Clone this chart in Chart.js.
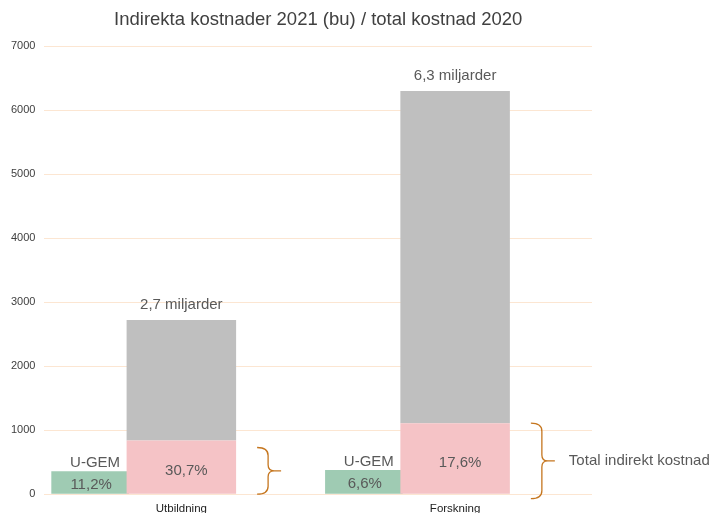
<!DOCTYPE html>
<html>
<head>
<meta charset="utf-8">
<script src="https://cdn.jsdelivr.net/npm/chart.js@4/dist/chart.umd.min.js"></script>
<style>
  html, body { margin: 0; padding: 0; overflow: hidden; background: #fff; }
</style>
</head>
<body>
<canvas id="chart" width="717" height="516"></canvas>
<script>
// värden (miljoner kr)
const categories = ['Utbildning', 'Forskning'];
const indirekt = [840, 1110];      // rosa del, total indirekt kostnad
const ovrigt = [1880, 5190];       // grå del ovanpå (resten av totalen)
const ugem = [360, 380];           // gröna staplar
const totalLabels = ['2,7 miljarder', '6,3 miljarder'];
const indirektLabels = ['30,7%', '17,6%'];
const ugemLabels = ['11,2%', '6,6%'];
const braceFrom = [0, -70];
const braceTo = [730, 1110];

const textColor = '#595959';
const braceColor = '#C5761F';
const font = 'Arial, "Liberation Sans", sans-serif';

// tre platser per kategori: grön stapel, huvudstapel, tom
const slotLabels = categories.flatMap(c => ['', c, '']);
const ugemSlots = ugem.flatMap(v => [v, null, null]);
const indirektSlots = indirekt.flatMap(v => [null, v, null]);
const ovrigtSlots = ovrigt.flatMap(v => [null, v, null]);

const labelPlugin = {
  id: 'labels',
  afterDatasetsDraw(chart) {
    const ctx = chart.ctx;
    const y = chart.scales.y;
    const pink = chart.getDatasetMeta(0).data;
    const grey = chart.getDatasetMeta(1).data;
    const green = chart.getDatasetMeta(2).data;
    ctx.save();
    ctx.fillStyle = textColor;
    ctx.textAlign = 'center';
    ctx.font = '15px ' + font;

    categories.forEach((c, i) => {
      const k = i * 3;
      const g = grey[k + 1];
      ctx.textBaseline = 'bottom';
      ctx.fillText(totalLabels[i], g.x, g.y - 8);

      const p = pink[k + 1];
      ctx.textBaseline = 'middle';
      ctx.fillText(indirektLabels[i], p.x + 5, (p.y + p.base) / 2 + 4);

      const gr = green[k];
      ctx.textBaseline = 'bottom';
      ctx.fillText('U-GEM', gr.x + 5, gr.y - 1);
      ctx.textBaseline = 'middle';
      ctx.fillText(ugemLabels[i], gr.x + 1, (gr.y + gr.base) / 2 + 2);

      // klammer
      const x0 = g.x + g.width / 2 + 21;
      const top = y.getPixelForValue(braceTo[i]);
      const bot = y.getPixelForValue(braceFrom[i]);
      const mid = (top + bot) / 2;
      const xv = x0 + 11;
      ctx.strokeStyle = braceColor;
      ctx.lineWidth = 1.3;
      ctx.beginPath();
      ctx.moveTo(x0, top);
      ctx.quadraticCurveTo(xv, top, xv, top + 8);
      ctx.lineTo(xv, mid - 6);
      ctx.quadraticCurveTo(xv, mid, xv + 6, mid);
      ctx.lineTo(xv + 13, mid);
      ctx.moveTo(xv + 6, mid);
      ctx.quadraticCurveTo(xv, mid, xv, mid + 6);
      ctx.lineTo(xv, bot - 8);
      ctx.quadraticCurveTo(xv, bot, x0, bot);
      ctx.stroke();
    });

    const last = grey[grey.length - 2];
    const my = (y.getPixelForValue(braceTo[1]) + y.getPixelForValue(braceFrom[1])) / 2;
    ctx.textAlign = 'left';
    ctx.textBaseline = 'middle';
    ctx.font = '15px ' + font;
    ctx.fillText('Total indirekt kostnad', last.x + last.width / 2 + 59, my);
    ctx.restore();
  }
};

const barOpts = { grouped: false, categoryPercentage: 1 };

new Chart(document.getElementById('chart'), {
  type: 'bar',
  data: {
    labels: slotLabels,
    datasets: [
      Object.assign({ label: 'Indirekt', data: indirektSlots, backgroundColor: '#F5C3C6', stack: 'main', barPercentage: 1.2 }, barOpts),
      Object.assign({ label: 'Total', data: ovrigtSlots, backgroundColor: '#BFBFBF', stack: 'main', barPercentage: 1.2 }, barOpts),
      Object.assign({ label: 'U-GEM', data: ugemSlots, backgroundColor: '#9FCBB3', stack: 'ugem', barPercentage: 0.85 }, barOpts)
    ]
  },
  options: {
    responsive: false,
    animation: false,
    layout: { padding: { left: 2, right: 125, top: 0, bottom: 0 } },
    plugins: {
      legend: { display: false },
      tooltip: { enabled: false },
      title: {
        display: true,
        fullSize: false,
        text: 'Indirekta kostnader 2021 (bu) / total kostnad 2020',
        color: '#404040',
        font: { family: font, size: 18.5, weight: 'normal' },
        padding: { top: 9, bottom: 15 }
      }
    },
    scales: {
      x: {
        stacked: true,
        grid: { display: false },
        border: { display: false },
        ticks: {
          color: '#222',
          padding: 0,
          autoSkip: false,
          maxRotation: 0,
          font: { family: font, size: 11.5 }
        }
      },
      y: {
        stacked: true,
        min: 0,
        max: 7000,
        grid: { color: '#FCE6D2', drawTicks: false },
        border: { display: false },
        ticks: {
          stepSize: 1000,
          padding: 9,
          color: '#404040',
          font: { family: font, size: 11 },
          callback: v => String(v)
        }
      }
    }
  },
  plugins: [labelPlugin]
});
</script>
</body>
</html>
